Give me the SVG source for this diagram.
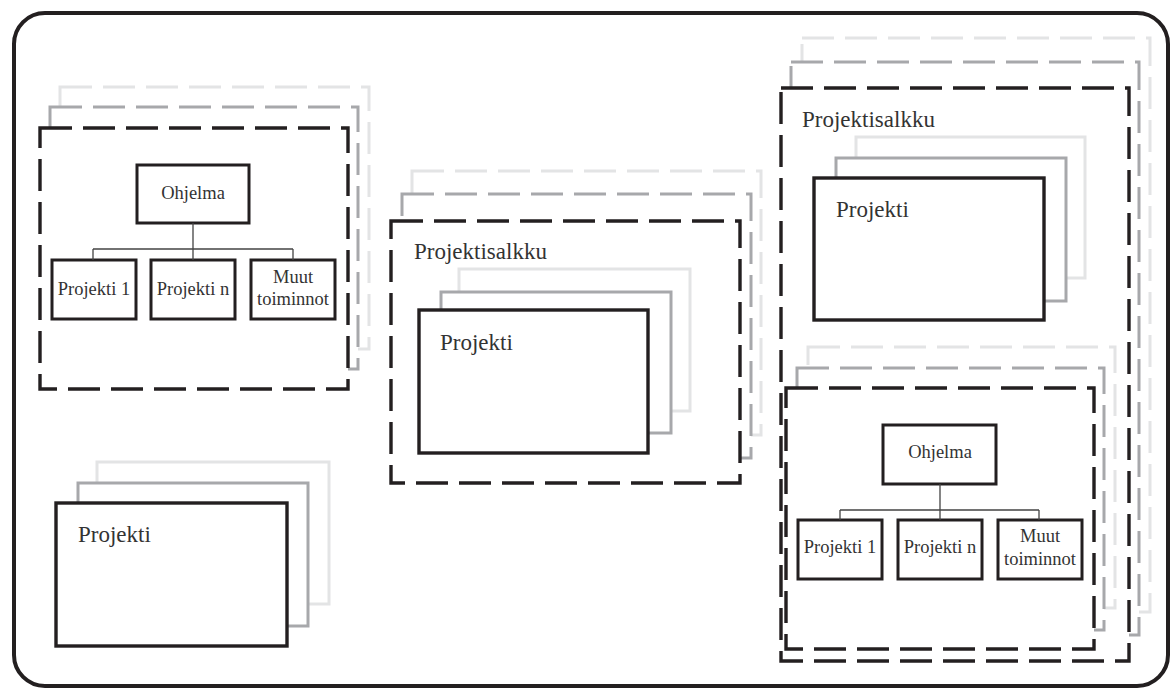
<svg xmlns="http://www.w3.org/2000/svg" width="1171" height="688" viewBox="0 0 1171 688">
  <style>
    .frame { fill: none; stroke: #231f20; stroke-width: 4; }
    .dash-back2 { fill: #fff; stroke: #e3e4e5; stroke-width: 3; stroke-dasharray: 32 11; }
    .dash-back1 { fill: #fff; stroke: #a7a8ab; stroke-width: 3; stroke-dasharray: 32 11; }
    .dash-front { fill: #fff; stroke: #231f20; stroke-width: 3.4; stroke-dasharray: 32 11; }
    .card-back2 { fill: #fff; stroke: #e3e4e5; stroke-width: 3; }
    .card-back1 { fill: #fff; stroke: #a7a8ab; stroke-width: 3; }
    .card-front { fill: #fff; stroke: #231f20; stroke-width: 3.4; }
    .box { fill: #fff; stroke: #231f20; stroke-width: 3; }
    .link { fill: none; stroke: #444; stroke-width: 1.3; }
    .lbl { font-family: "Liberation Serif", "DejaVu Serif", serif; fill: #333; }
    .big { font-size: 23px; }
    .small { font-size: 18.5px; text-anchor: middle; }
  </style>

  <!-- outer boundary -->
  <rect id="frame" class="frame" x="14" y="13" width="1154" height="673" rx="31" ry="31"/>

  <!-- programme (left) -->
  <g id="program-left">
    <rect class="dash-back2" x="60" y="87" width="309" height="262"/>
    <rect class="dash-back1" x="50" y="107" width="308" height="262"/>
    <rect class="dash-front" x="40" y="128" width="308" height="261"/>
  </g>
  <g id="ohjelma-left">
    <rect class="box" x="137" y="165" width="112" height="58"/>
    <text class="lbl small" x="193" y="199">Ohjelma</text>
  </g>
  <g id="projekti1-left">
    <rect class="box" x="52" y="260" width="84" height="59"/>
    <text class="lbl small" x="94" y="295">Projekti 1</text>
  </g>
  <g id="projektin-left">
    <rect class="box" x="151" y="260" width="84" height="59"/>
    <text class="lbl small" x="193" y="295">Projekti n</text>
  </g>
  <g id="muut-left">
    <rect class="box" x="251" y="260" width="84" height="59"/>
    <text class="lbl small" x="293" y="283">Muut</text>
    <text class="lbl small" x="293" y="305">toiminnot</text>
  </g>

  <!-- single project stack (bottom left) -->
  <g id="project-bottom">
    <rect class="card-back2" x="97" y="462" width="232" height="142"/>
    <rect class="card-back1" x="78" y="483" width="230" height="143"/>
    <rect class="card-front" x="56" y="503" width="231" height="143"/>
    <text class="lbl big" x="78" y="542">Projekti</text>
  </g>

  <!-- portfolio (middle) -->
  <g id="portfolio-middle">
    <rect class="dash-back2" x="412" y="171" width="349" height="264"/>
    <rect class="dash-back1" x="402" y="194" width="349" height="264"/>
    <rect class="dash-front" x="391" y="221" width="349" height="262"/>
    <text class="lbl big" x="414" y="259">Projektisalkku</text>
  </g>
  <g id="project-middle">
    <rect class="card-back2" x="459" y="269" width="231" height="142"/>
    <rect class="card-back1" x="441" y="292" width="230" height="141"/>
    <rect class="card-front" x="419" y="310" width="229" height="143"/>
    <text class="lbl big" x="440" y="350">Projekti</text>
  </g>

  <!-- portfolio (right) -->
  <g id="portfolio-right">
    <rect class="dash-back2" x="802" y="38" width="348" height="574"/>
    <rect class="dash-back1" x="791" y="62" width="348" height="573"/>
    <rect class="dash-front" x="781" y="88" width="348" height="573"/>
    <text class="lbl big" x="802" y="127">Projektisalkku</text>
  </g>
  <g id="project-right">
    <rect class="card-back2" x="856" y="137" width="229" height="141"/>
    <rect class="card-back1" x="836" y="158" width="230" height="143"/>
    <rect class="card-front" x="814" y="178" width="230" height="142"/>
    <text class="lbl big" x="836" y="217">Projekti</text>
  </g>

  <!-- programme inside the right portfolio -->
  <g id="program-right">
    <rect class="dash-back2" x="808" y="347" width="307" height="261"/>
    <rect class="dash-back1" x="797" y="368" width="307" height="262"/>
    <rect class="dash-front" x="786" y="388" width="308" height="261"/>
  </g>
  <g id="ohjelma-right">
    <rect class="box" x="883" y="425" width="113" height="59"/>
    <text class="lbl small" x="940" y="458">Ohjelma</text>
  </g>
  <g id="projekti1-right">
    <rect class="box" x="798" y="520" width="84" height="59"/>
    <text class="lbl small" x="840" y="553">Projekti 1</text>
  </g>
  <g id="projektin-right">
    <rect class="box" x="898" y="520" width="84" height="59"/>
    <text class="lbl small" x="940" y="553">Projekti n</text>
  </g>
  <g id="muut-right">
    <rect class="box" x="998" y="520" width="84" height="59"/>
    <text class="lbl small" x="1040" y="542">Muut</text>
    <text class="lbl small" x="1040" y="565">toiminnot</text>
  </g>

  <!-- hierarchy connectors -->
  <g id="connectors">
    <path class="link" d="M193 223 V249 M93 249 H293 M93 249 V260 M193 249 V260 M293 249 V260"/>
    <path class="link" d="M940 484 V510 M840 510 H1039 M840 510 V520 M940 510 V520 M1039 510 V520"/>
  </g>
</svg>
